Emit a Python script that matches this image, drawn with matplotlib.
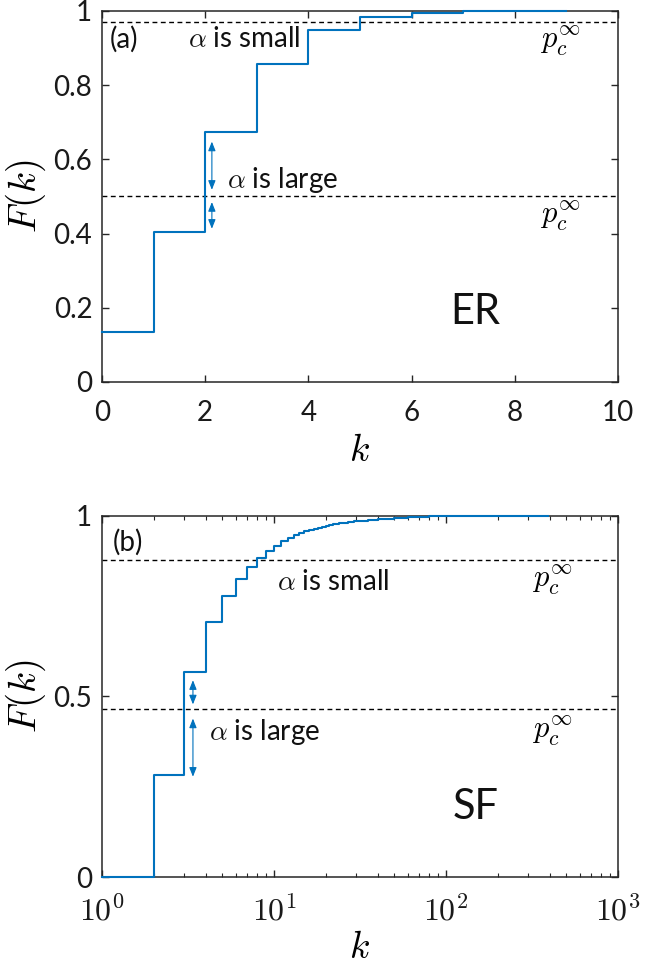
import math
import matplotlib
matplotlib.use("Agg")
import matplotlib.pyplot as plt
from matplotlib.ticker import FixedLocator, FuncFormatter, LogLocator, NullFormatter

plt.rcParams["mathtext.fontset"] = "cm"
plt.rcParams["font.family"] = ["Lato", "DejaVu Sans"]

BLUE = "#0072BD"
AXC = "#262626"

# ER panel: cumulative degree distribution
er_k = [0, 1, 2, 3, 4, 5, 6, 7, 8, 9]
er_F = [0.136, 0.404, 0.673, 0.858, 0.948, 0.984, 0.995, 0.999, 1.0, 1.0]
er_pc = [0.97, 0.50]

# SF panel
sf_k = [1, 2, 3, 4, 5, 6, 7, 8, 9, 10, 11, 12, 13, 14, 15, 16, 17, 18, 19, 20,
        21, 22, 23, 24, 25, 26, 27, 28, 29, 30, 35, 40, 50, 60, 70, 80, 100,
        150, 200, 390]
sf_F = [0.0, 0.284, 0.568, 0.707, 0.778, 0.824, 0.859, 0.883, 0.903, 0.917,
        0.929, 0.938, 0.946, 0.952, 0.957, 0.961, 0.964, 0.967, 0.970, 0.972,
        0.974, 0.976, 0.977, 0.979, 0.980, 0.981, 0.982, 0.983, 0.984, 0.985,
        0.988, 0.991, 0.994, 0.996, 0.997, 0.998, 0.999, 0.9995, 1.0, 1.0]
sf_pc = [0.878, 0.465]

fig = plt.figure(figsize=(6.52, 9.73), dpi=100)
ax1 = fig.add_axes([0.1564, 0.6074, 0.7914, 0.3813])
ax2 = fig.add_axes([0.1564, 0.0984, 0.7914, 0.3716])

for ax in (ax1, ax2):
    ax.tick_params(direction="in", top=True, right=True, length=5, width=1,
                   colors=AXC, labelsize=20, labelcolor="#1a1a1a")
    ax.tick_params(axis="x", pad=13)
    ax.tick_params(axis="y", pad=7)
    ax.tick_params(which="minor", direction="in", top=True, right=True,
                   length=3, width=0.8, colors=AXC)
    for s in ax.spines.values():
        s.set_color(AXC)
        s.set_linewidth(1.1)

arrow = dict(arrowstyle="<|-|>,head_length=0.55,head_width=0.22",
             color=BLUE, lw=0.8, shrinkA=0, shrinkB=0)
txt = dict(fontsize=20, color="#111111", va="center")
pc_label = r"$p_c^{\infty}$"

# --- (a) ER ---
ax1.step(er_k, er_F, where="post", color=BLUE, lw=1.5, clip_on=False, zorder=3)
for y in er_pc:
    ax1.axhline(y, color="black", ls=(0, (3.5, 2.5)), lw=1.0)
ax1.set_xlim(0, 10)
ax1.set_ylim(0, 1)
ax1.set_xticks([0, 2, 4, 6, 8, 10])
ax1.set_yticks([0, 0.2, 0.4, 0.6, 0.8, 1])
ax1.yaxis.set_major_formatter(FuncFormatter(lambda v, p: f"{v:g}"))
ax1.set_xlabel(r"$k$", fontsize=27, labelpad=4)
ax1.set_ylabel(r"$F(k)$", fontsize=28, labelpad=4)

ax1.annotate("", xy=(2.13, 0.648), xytext=(2.13, 0.518), arrowprops=arrow)
ax1.annotate("", xy=(2.13, 0.485), xytext=(2.13, 0.413), arrowprops=arrow)
ax1.text(0.16, 0.924, "(a)", **txt)
ax1.text(1.67, 0.924, r"$\alpha$ is small", **txt)
ax1.text(2.42, 0.545, r"$\alpha$ is large", **txt)
ax1.text(8.48, 0.917, pc_label, fontsize=22, va="center")
ax1.text(8.48, 0.446, pc_label, fontsize=22, va="center")
ax1.text(7.23, 0.188, "ER", fontsize=30, va="center", ha="center", color="#111111")

# --- (b) SF ---
ax2.step(sf_k, sf_F, where="post", color=BLUE, lw=1.5, clip_on=False, zorder=3)
for y in sf_pc:
    ax2.axhline(y, color="black", ls=(0, (3.5, 2.5)), lw=1.0)
ax2.set_xscale("log")
ax2.set_xlim(1, 1000)
ax2.set_ylim(0, 1)
ax2.xaxis.set_major_locator(FixedLocator([1, 10, 100, 1000]))
ax2.xaxis.set_minor_locator(LogLocator(base=10, subs=range(2, 10)))
ax2.xaxis.set_minor_formatter(NullFormatter())
ax2.xaxis.set_major_formatter(
    FuncFormatter(lambda v, p: r"$\mathrm{10^{%d}}$" % round(math.log10(v))))
ax2.set_yticks([0, 0.5, 1])
ax2.yaxis.set_major_formatter(FuncFormatter(lambda v, p: f"{v:g}"))
ax2.tick_params(axis="x", labelsize=23, pad=12)
ax2.set_xlabel(r"$k$", fontsize=27, labelpad=2)
ax2.set_ylabel(r"$F(k)$", fontsize=28, labelpad=4)

ax2.annotate("", xy=(3.38, 0.545), xytext=(3.38, 0.478), arrowprops=arrow)
ax2.annotate("", xy=(3.38, 0.439), xytext=(3.38, 0.278), arrowprops=arrow)
ax2.text(1.15, 0.926, "(b)", **txt)
ax2.text(10.4, 0.816, r"$\alpha$ is small", **txt)
ax2.text(4.2, 0.402, r"$\alpha$ is large", **txt)
ax2.text(318, 0.82, pc_label, fontsize=22, va="center")
ax2.text(318, 0.402, pc_label, fontsize=22, va="center")
ax2.text(148, 0.195, "SF", fontsize=30, va="center", ha="center", color="#111111")

fig.savefig("out.png", dpi=100)
